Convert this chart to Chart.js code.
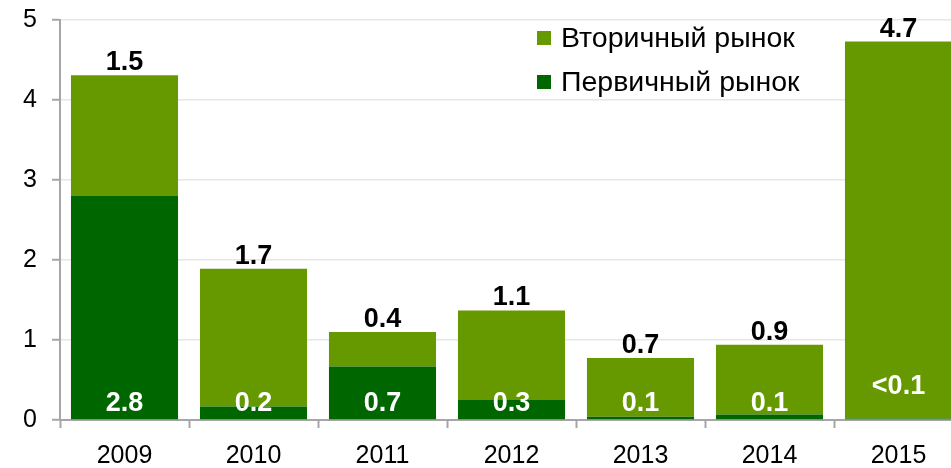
<!DOCTYPE html>
<html>
<head>
<meta charset="utf-8">
<script src="https://cdn.jsdelivr.net/npm/chart.js@4/dist/chart.umd.min.js"></script>
<style>
html,body{margin:0;padding:0;overflow:hidden;background:#fff;}
#wrap{width:965px;height:468px;}
</style>
</head>
<body>
<div id="wrap"><canvas id="c" width="965" height="468"></canvas></div>
<script>
const categories = ['2009','2010','2011','2012','2013','2014','2015'];
const primaryValues = [2.8, 0.17, 0.67, 0.25, 0.04, 0.07, 0.02];
const secondaryValues = [1.51, 1.72, 0.43, 1.12, 0.735, 0.87, 4.71];
const primaryLabels = ['2.8','0.2','0.7','0.3','0.1','0.1','<0.1'];
const secondaryLabels = ['1.5','1.7','0.4','1.1','0.7','0.9','4.7'];
const seriesNames = ['Первичный рынок','Вторичный рынок'];
const yTicks = [0,1,2,3,4,5];

const FONT = '"Liberation Sans", Arial, sans-serif';
const LIGHT = '#669900';
const DARK = '#006600';
const AXIS = '#a6a6a6';

const labelPlugin = {
  id: 'valueLabels',
  afterDatasetsDraw(chart) {
    const ctx = chart.ctx;
    const y = chart.scales.y;
    const m0 = chart.getDatasetMeta(0);
    const m1 = chart.getDatasetMeta(1);
    ctx.save();
    ctx.textAlign = 'center';
    ctx.textBaseline = 'alphabetic';
    ctx.font = 'bold 27px ' + FONT;
    for (let i = 0; i < categories.length; i++) {
      const top = m1.data[i];
      ctx.fillStyle = '#000';
      ctx.fillText(secondaryLabels[i], top.x, top.y - 5);
      const t = primaryLabels[i];
      const lift = t.startsWith('<') ? 26 : 9;
      ctx.fillStyle = '#fff';
      ctx.fillText(t, m0.data[i].x, y.getPixelForValue(0) - lift);
    }
    // legend (secondary first)
    ctx.font = '28.5px ' + FONT;
    ctx.textAlign = 'left';
    ctx.textBaseline = 'alphabetic';
    const items = [[seriesNames[1], LIGHT, 38, 47], [seriesNames[0], DARK, 82, 91]];
    for (const [name, col, cy, base] of items) {
      ctx.fillStyle = col;
      ctx.fillRect(537, cy - 7, 14, 14);
      ctx.fillStyle = '#000';
      ctx.fillText(name, 561, base);
    }
    ctx.restore();
  }
};

new Chart(document.getElementById('c'), {
  type: 'bar',
  data: {
    labels: categories,
    datasets: [
      { label: seriesNames[0], data: primaryValues, backgroundColor: DARK, barPercentage: 0.83, categoryPercentage: 1.0, borderWidth: 0 },
      { label: seriesNames[1], data: secondaryValues, backgroundColor: LIGHT, barPercentage: 0.83, categoryPercentage: 1.0, borderWidth: 0 }
    ]
  },
  options: {
    responsive: false,
    animation: false,
    devicePixelRatio: 1,
    layout: { padding: { top: 20, right: 2, left: 0, bottom: 0 } },
    plugins: { legend: { display: false }, tooltip: { enabled: false } },
    scales: {
      x: {
        stacked: true,
        offset: true,
        grid: { display: true, drawOnChartArea: false, drawTicks: true, tickLength: 8, tickColor: AXIS, tickWidth: 2, offset: true },
        border: { display: true, color: AXIS, width: 2 },
        ticks: { color: '#000', font: { family: FONT, size: 25 }, padding: 13, maxRotation: 0 },
        afterFit(s) { s.height = 48; s.paddingLeft = 0; s.paddingRight = 0; }
      },
      y: {
        stacked: true,
        min: 0, max: 5,
        afterBuildTicks(s) { s.ticks = yTicks.map(v => ({ value: v })); },
        grid: { color: '#e6e6e6', lineWidth: 1.5, drawTicks: true, tickLength: 8, tickColor: AXIS, tickWidth: 2 },
        border: { display: true, color: AXIS, width: 2 },
        ticks: { color: '#000', font: { family: FONT, size: 25, lineHeight: 0.6 }, padding: 15 },
        afterFit(s) { s.width = 60; s.paddingTop = 0; s.paddingBottom = 0; }
      }
    }
  },
  plugins: [labelPlugin]
});
</script>
</body>
</html>
